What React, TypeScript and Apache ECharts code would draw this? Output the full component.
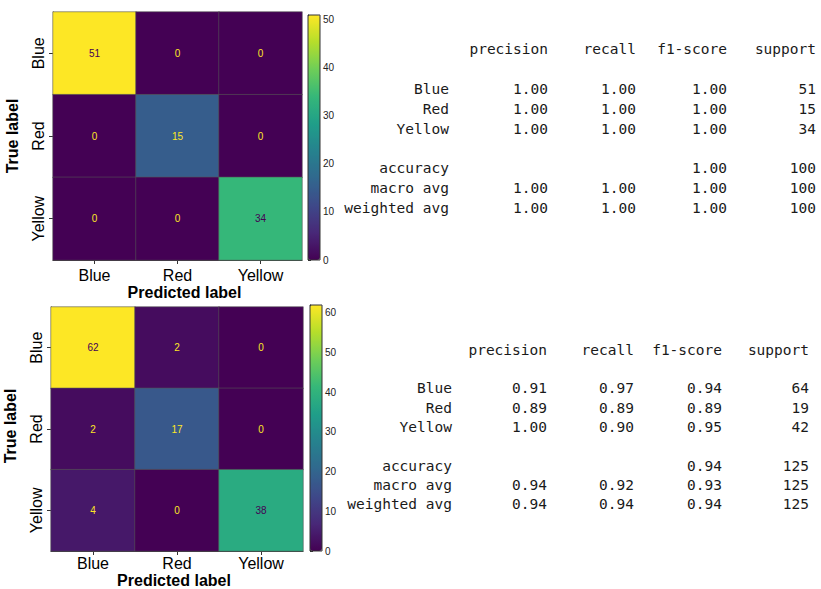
import React, { useEffect, useRef } from "react";
import * as echarts from "echarts";

const classes = ["Blue", "Red", "Yellow"];
const cmTop = [
  [51, 0, 0],
  [0, 15, 0],
  [0, 0, 34],
];
const cmBottom = [
  [62, 2, 0],
  [2, 17, 0],
  [4, 0, 38],
];
const colorbarTicks = [0, 10, 20, 30, 40, 50, 60];

const reportColumns = ["precision", "recall", "f1-score", "support"];
const reportRowLabels = ["Blue", "Red", "Yellow", "accuracy", "macro avg", "weighted avg"];

const topPrecision = ["1.00", "1.00", "1.00", "", "1.00", "1.00"];
const topRecall = ["1.00", "1.00", "1.00", "", "1.00", "1.00"];
const topF1 = ["1.00", "1.00", "1.00", "1.00", "1.00", "1.00"];
const topSupport = ["51", "15", "34", "100", "100", "100"];

const bottomPrecision = ["0.91", "0.89", "1.00", "", "0.94", "0.94"];
const bottomRecall = ["0.97", "0.89", "0.90", "", "0.92", "0.94"];
const bottomF1 = ["0.94", "0.89", "0.95", "0.94", "0.93", "0.94"];
const bottomSupport = ["64", "19", "42", "125", "125", "125"];

const VIRIDIS = [
  "#440154", "#482878", "#3e4989", "#31688e", "#26828e",
  "#1f9e89", "#35b779", "#6ece58", "#b5de2b", "#fde725",
];

const SANS = "'Liberation Sans', Arial, sans-serif";
const MONO = "'DejaVu Sans Mono', monospace";

function cmData(cm: number[][]) {
  let max = 0;
  cm.forEach((r) => r.forEach((v) => (max = Math.max(max, v))));
  const out: any[] = [];
  cm.forEach((row, i) =>
    row.forEach((v, j) => {
      out.push({
        value: [j, i, v],
        label: { color: v >= max / 2 ? VIRIDIS[0] : VIRIDIS[VIRIDIS.length - 1] },
      });
    })
  );
  return { data: out, max };
}

function tableTexts(
  cols: number[],
  labelRight: number,
  headerY: number,
  rowYs: number[],
  values: string[][]
) {
  const els: any[] = [];
  const base = { fontFamily: MONO, fontSize: 14.5, fill: "#1a1a1a", align: "right", verticalAlign: "middle" };
  reportColumns.forEach((c, k) => {
    els.push({ type: "text", x: cols[k], y: headerY, style: { ...base, text: c } });
  });
  reportRowLabels.forEach((lab, r) => {
    els.push({ type: "text", x: labelRight, y: rowYs[r], style: { ...base, text: lab } });
    values.forEach((col, k) => {
      if (col[r]) els.push({ type: "text", x: cols[k], y: rowYs[r], style: { ...base, text: col[r] } });
    });
  });
  return els;
}

export default function App() {
  const ref = useRef<HTMLDivElement>(null);
  useEffect(() => {
    const chart = echarts.init(ref.current!, undefined, { renderer: "svg" });
    const top = cmData(cmTop);
    const bot = cmData(cmBottom);

    const grids = [
      { left: 53, top: 12, width: 249, height: 248 },
      { left: 51, top: 307, width: 252, height: 244 },
      { left: 308, top: 15, width: 12, height: 245 },
      { left: 310, top: 305, width: 12, height: 246 },
    ];

    const catX = (gi: number, gap: number, margin: number, pad: number[]) => ({
      type: "category",
      gridIndex: gi,
      data: classes,
      name: "Predicted label",
      nameLocation: "middle",
      nameGap: gap,
      nameTextStyle: { fontFamily: SANS, fontSize: 16, fontWeight: "bold", color: "#000", padding: pad },
      axisLine: { show: true, lineStyle: { color: "#333" } },
      axisTick: { show: true, alignWithLabel: true, length: 4, lineStyle: { color: "#333" } },
      axisLabel: { fontFamily: SANS, fontSize: 16, color: "#000", margin },
      splitArea: { show: false },
    });
    const catY = (gi: number, pad: number[]) => ({
      type: "category",
      gridIndex: gi,
      data: classes,
      inverse: true,
      name: "True label",
      nameLocation: "middle",
      nameGap: 33,
      nameRotate: 90,
      nameTextStyle: { fontFamily: SANS, fontSize: 16, fontWeight: "bold", color: "#000", padding: pad },
      axisLine: { show: true, lineStyle: { color: "#333" } },
      axisTick: { show: true, alignWithLabel: true, length: 4, lineStyle: { color: "#333" } },
      axisLabel: { fontFamily: SANS, fontSize: 16, color: "#000", rotate: 90, margin: 7 },
      splitArea: { show: false },
    });
    const cbY = (gi: number, max: number) => ({
      type: "value",
      gridIndex: gi,
      position: "right",
      min: 0,
      max,
      interval: 10,
      axisLine: { show: true, lineStyle: { color: "#333" } },
      axisTick: { show: true, length: 3, lineStyle: { color: "#333" } },
      axisLabel: { fontFamily: SANS, fontSize: 10, color: "#222", margin: 3, formatter: (v: number) => (colorbarTicks.includes(v) ? String(v) : "") },
      splitLine: { show: false },
    });
    const cbX = (gi: number) => ({ type: "value", gridIndex: gi, show: false, min: 0, max: 1 });

    const heat = (gi: number, data: any[]) => ({
      type: "heatmap",
      xAxisIndex: gi,
      yAxisIndex: gi,
      data,
      label: { show: true, fontFamily: SANS, fontSize: 10 },
      itemStyle: { borderColor: "#555", borderWidth: 0.6 },
      emphasis: { disabled: true },
    });

    const tableTop = tableTexts([548, 636, 727, 816], 449, 49, [89, 109, 129, 168, 188, 208], [topPrecision, topRecall, topF1, topSupport]);
    const tableBot = tableTexts([547, 634, 722, 809], 452, 350, [388, 408, 427, 466, 485, 504], [bottomPrecision, bottomRecall, bottomF1, bottomSupport]);

    chart.setOption({
      animation: false,
      backgroundColor: "#fff",
      grid: grids,
      xAxis: [catX(0, 24, 7, [0, 0, 0, 14]), catX(1, 21, 4, [0, 6, 0, 0]), cbX(2), cbX(3)],
      yAxis: [catY(0, [0, 0, 0, 0]), catY(1, [0, 0, 0, 6]), cbY(2, top.max), cbY(3, bot.max)],
      visualMap: [
        {
          type: "continuous",
          seriesIndex: 0,
          min: 0,
          max: top.max,
          calculable: false,
          left: 308,
          top: 15,
          itemWidth: 12,
          itemHeight: 245,
          padding: 0,
          inRange: { color: VIRIDIS },
          text: null,
          showLabel: false,
        },
        {
          type: "continuous",
          seriesIndex: 1,
          min: 0,
          max: bot.max,
          calculable: false,
          left: 310,
          top: 305,
          itemWidth: 12,
          itemHeight: 246,
          padding: 0,
          inRange: { color: VIRIDIS },
          text: null,
          showLabel: false,
        },
      ],
      series: [
        heat(0, top.data),
        heat(1, bot.data),
        { type: "scatter", xAxisIndex: 2, yAxisIndex: 2, data: [], silent: true },
        { type: "scatter", xAxisIndex: 3, yAxisIndex: 3, data: [], silent: true },
      ],
      graphic: [
        { type: "rect", shape: { x: 308, y: 15, width: 12, height: 245 }, style: { fill: "none", stroke: "#333", lineWidth: 1 }, z: 100, silent: true },
        { type: "rect", shape: { x: 310, y: 305, width: 12, height: 246 }, style: { fill: "none", stroke: "#333", lineWidth: 1 }, z: 100, silent: true },
        ...tableTop,
        ...tableBot,
      ],
    });
    return () => chart.dispose();
  }, []);
  return <div ref={ref} style={{ position: "absolute", left: 0, top: 0, width: 821, height: 589 }} />;
}
